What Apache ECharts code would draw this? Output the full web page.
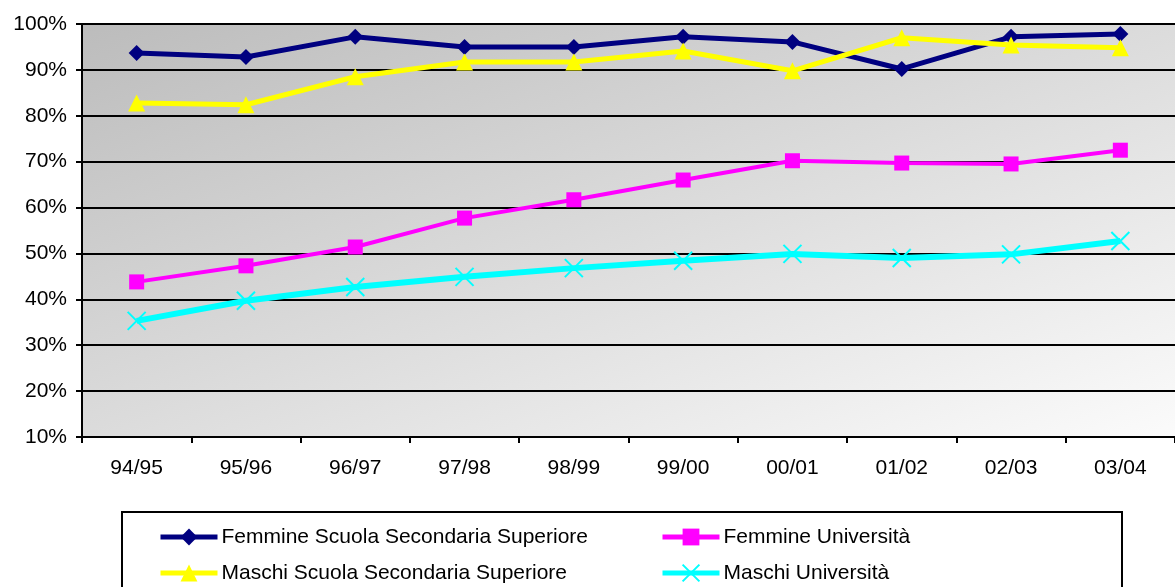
<!DOCTYPE html>
<html>
<head>
<meta charset="utf-8">
<script src="https://cdn.jsdelivr.net/npm/echarts@6/dist/echarts.min.js"></script>
<style>
  html, body { margin: 0; padding: 0; background: #ffffff; }
  #chart { width: 1175px; height: 587px; }
</style>
</head>
<body>
<div id="chart"></div>
<script>
// School years on the category axis
const years = ['94/95', '95/96', '96/97', '97/98', '98/99', '99/00', '00/01', '01/02', '02/03', '03/04'];

// Shares in percent
const femmineSecondaria = [93.7, 92.8, 97.2, 95.0, 95.0, 97.2, 96.1, 90.2, 97.2, 97.8];
const maschiSecondaria = [82.8, 82.4, 88.5, 91.7, 91.7, 94.1, 89.8, 97.0, 95.4, 94.8];
const femmineUniversita = [43.8, 47.3, 51.4, 57.7, 61.7, 66.0, 70.2, 69.7, 69.5, 72.5];
const maschiUniversita = [35.3, 39.7, 42.7, 44.9, 46.8, 48.4, 49.9, 49.0, 49.8, 52.7];

// Series names as shown in the legend
const NAME_FS = 'Femmine Scuola Secondaria Superiore';
const NAME_FU = 'Femmine Università';
const NAME_MS = 'Maschi Scuola Secondaria Superiore';
const NAME_MU = 'Maschi Università';

// Y axis range and step, in percent
const yMin = 10;
const yMax = 100;
const yStep = 10;

const FONT = '"Liberation Sans", Arial, sans-serif';
const crossPath = 'path://M0,0 L10,10 M10,0 L0,10';

const chart = echarts.init(document.getElementById('chart'), null, { renderer: 'canvas' });

function lineSeries(name, data, color, symbol, symbolSize, width, extraItem) {
  return {
    name: name,
    type: 'line',
    data: data,
    symbol: symbol,
    symbolSize: symbolSize,
    showAllSymbol: true,
    lineStyle: { color: color, width: width },
    itemStyle: Object.assign({ color: color }, extraItem || {}),
    emphasis: { disabled: true },
    animation: false,
    z: 3
  };
}

// One legend block per entry, laid out in two columns and two rows
function legendEntry(name, left, top) {
  return {
    left: left,
    top: top,
    orient: 'horizontal',
    itemWidth: 57,
    itemHeight: 21,
    itemGap: 0,
    data: [name],
    lineStyle: { width: 5 },
    textStyle: { color: '#000000', fontSize: 21, fontFamily: FONT, lineHeight: 22, padding: [0, 0, 0, -1] },
    selectedMode: false,
    z: 5
  };
}

const option = {
  backgroundColor: '#ffffff',
  animation: false,
  grid: {
    left: 82,
    top: 24,
    right: -5,
    bottom: 150,
    show: true,
    borderWidth: 0,
    // Diagonal shading: dark grey at the top-left corner, near white at the bottom-right
    backgroundColor: new echarts.graphic.LinearGradient(82, 24, 355, 747, [
      { offset: 0, color: '#bcbcbc' },
      { offset: 1, color: '#fbfbfb' }
    ], true)
  },
  xAxis: {
    type: 'category',
    data: years,
    boundaryGap: true,
    axisLine: { show: true, lineStyle: { color: '#000000', width: 2 } },
    axisTick: { show: true, length: 6, lineStyle: { color: '#000000', width: 2 } },
    axisLabel: { color: '#000000', fontSize: 21, fontFamily: FONT, margin: 21 },
    splitLine: { show: false }
  },
  yAxis: {
    type: 'value',
    min: yMin,
    max: yMax,
    interval: yStep,
    axisLine: { show: true, lineStyle: { color: '#000000', width: 2 } },
    axisTick: { show: true, length: 6, lineStyle: { color: '#000000', width: 2 } },
    axisLabel: { color: '#000000', fontSize: 21, fontFamily: FONT, margin: 15, formatter: '{value}%' },
    splitLine: { show: true, lineStyle: { color: '#000000', width: 2 } }
  },
  graphic: [
    {
      type: 'rect',
      left: 121,
      top: 511,
      shape: { width: 1000, height: 120 },
      style: { fill: '#ffffff', stroke: '#000000', lineWidth: 2 },
      z: 0
    }
  ],
  legend: [
    legendEntry(NAME_FS, 153, 521),
    legendEntry(NAME_MS, 153, 557),
    legendEntry(NAME_FU, 655, 521),
    legendEntry(NAME_MU, 655, 557)
  ],
  series: [
    lineSeries(NAME_FS, femmineSecondaria, '#000080', 'diamond', 16, 5),
    lineSeries(NAME_FU, femmineUniversita, '#ff00ff', 'rect', 15, 4),
    lineSeries(NAME_MS, maschiSecondaria, '#ffff00', 'triangle', 17, 5),
    lineSeries(NAME_MU, maschiUniversita, '#00ffff', crossPath, 18, 6,
      { borderColor: '#00ffff', borderWidth: 2 })
  ]
};

chart.setOption(option);
</script>
</body>
</html>
